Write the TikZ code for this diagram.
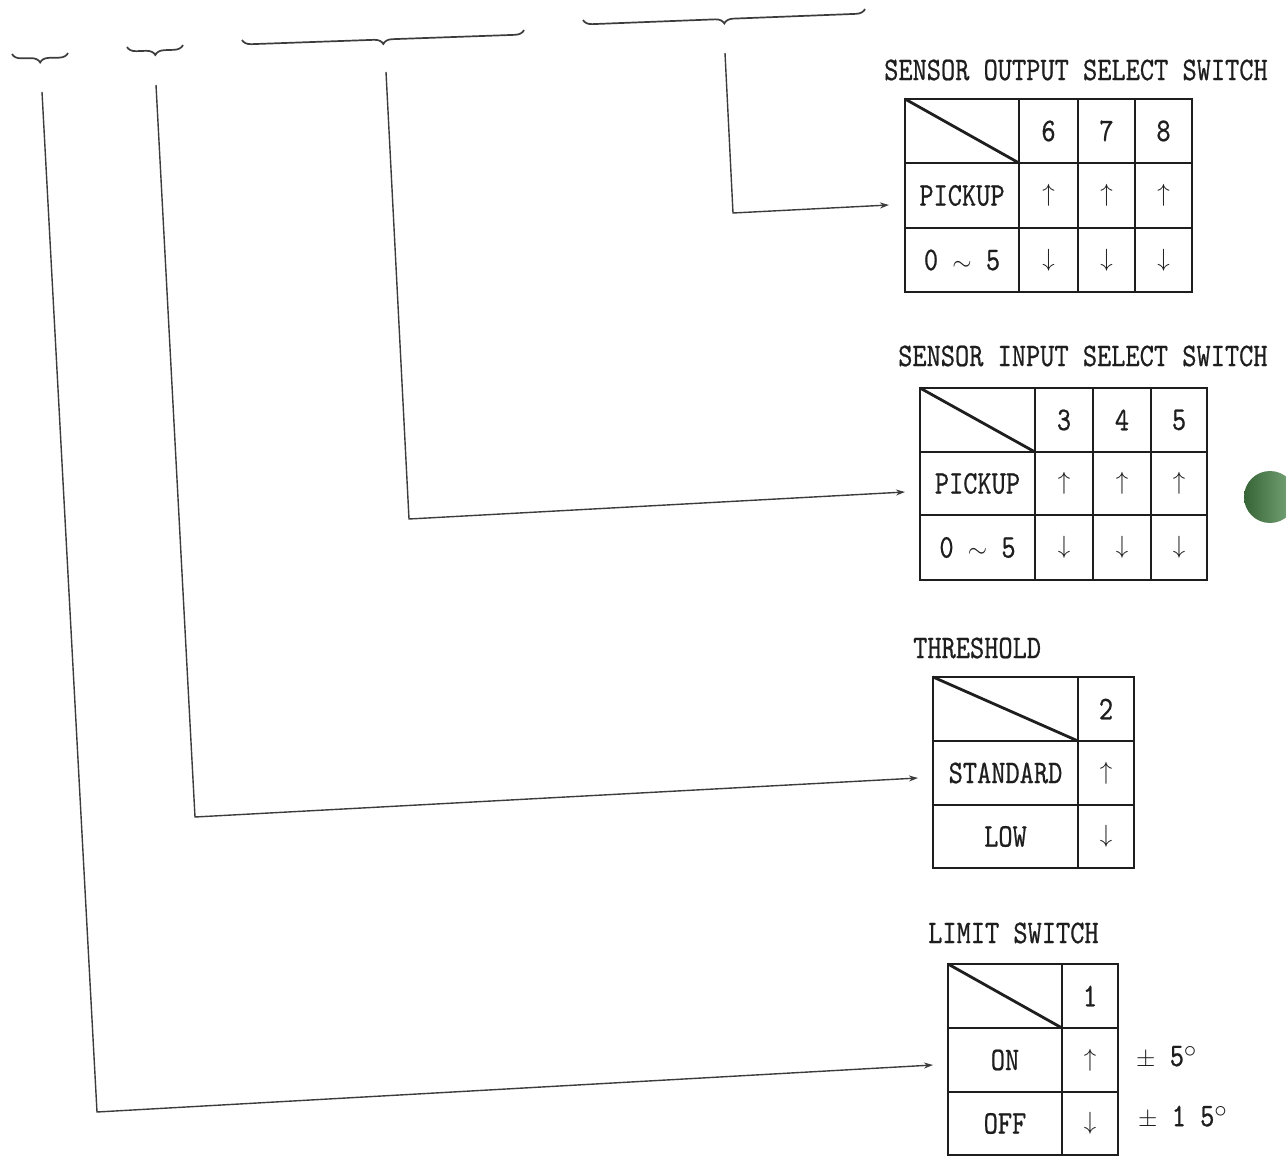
\documentclass[tikz,border=0pt]{standalone}
\usepackage{fontspec}
\setmainfont{lmmono10-regular.otf}[FakeStretch=0.82,FakeBold=0.6]
\usetikzlibrary{decorations.pathreplacing,arrows.meta}
\definecolor{ink}{RGB}{30,30,30}
\definecolor{wirec}{RGB}{60,60,60}
\begin{document}
\begin{tikzpicture}[x=1pt,y=-1pt,
  tbl/.style={line width=2.8pt, draw=ink, line join=miter},
  tblthin/.style={line width=1.4pt, draw=ink},
  wire/.style={line width=1.4pt, draw=wirec, line join=miter},
  arr/.style={wire, -{Stealth[length=9pt,width=6pt]}},
  brc/.style={line width=1.7pt, draw=wirec, decorate, decoration={brace, mirror, amplitude=9pt}},
  lbl/.style={font=\fontsize{33}{35}\selectfont, text=ink, inner sep=0pt},
  cell/.style={lbl, anchor=center},
  ttl/.style={lbl, anchor=west}]
\useasboundingbox (0,0) rectangle (1286,1158);
\fill[white] (0,0) rectangle (1286,1158);

% ---------- braces ----------
\draw[brc] (12,54) -- (68,53);
\draw[brc] (127,47) -- (183,45);
\draw[brc] (242,40) -- (524,30);
\draw[brc] (583,20) -- (865,9);

% ---------- table 1: sensor output ----------
\node[ttl] (t1) at (884,70) {SENSOR OUTPUT SELECT SWITCH};
\draw[tbl] (905,99) rectangle (1192,292);
\draw[tbl] (905,163) -- (1192,163) (905,228) -- (1192,228) (1019,99) -- (1019,292);
\draw[tblthin] (1078,99) -- (1078,292) (1135,99) -- (1135,292);
\draw[tbl] (905,99) -- (1019,163);
\node[cell] (o6) at (1048.5,131) {6};
\node[cell] (o7) at (1106.5,131) {7};
\node[cell] (o8) at (1163.5,131) {8};
\node[cell] (opick) at (962,195.5) {PICKUP};
\node[cell] (orng) at (962,260) {0 $\sim$ 5};
\node[cell] (o6u) at (1048.5,195.5) {$\uparrow$};
\node[cell] (o7u) at (1106.5,195.5) {$\uparrow$};
\node[cell] (o8u) at (1163.5,195.5) {$\uparrow$};
\node[cell] (o6d) at (1048.5,260) {$\downarrow$};
\node[cell] (o7d) at (1106.5,260) {$\downarrow$};
\node[cell] (o8d) at (1163.5,260) {$\downarrow$};

% ---------- table 2: sensor input ----------
\node[ttl] (t2) at (898,356) {SENSOR INPUT SELECT SWITCH};
\draw[tbl] (920,388) rectangle (1207,580);
\draw[tbl] (920,452) -- (1207,452) (920,515) -- (1207,515) (1035,388) -- (1035,580);
\draw[tblthin] (1093,388) -- (1093,580) (1151,388) -- (1151,580);
\draw[tbl] (920,388) -- (1035,452);
\node[cell] (i3) at (1064,420) {3};
\node[cell] (i4) at (1122,420) {4};
\node[cell] (i5) at (1179,420) {5};
\node[cell] (ipick) at (977.5,483.5) {PICKUP};
\node[cell] (irng) at (977.5,547.5) {0 $\sim$ 5};
\node[cell] (i3u) at (1064,483.5) {$\uparrow$};
\node[cell] (i4u) at (1122,483.5) {$\uparrow$};
\node[cell] (i5u) at (1179,483.5) {$\uparrow$};
\node[cell] (i3d) at (1064,547.5) {$\downarrow$};
\node[cell] (i4d) at (1122,547.5) {$\downarrow$};
\node[cell] (i5d) at (1179,547.5) {$\downarrow$};

% green dot
\shade[left color={rgb,255:red,55;green,100;blue,55}, right color={rgb,255:red,125;green,170;blue,125}] (1270,497) circle[radius=26];

% ---------- table 3: threshold ----------
\node[ttl] (t3) at (913,648) {THRESHOLD};
\draw[tbl] (933,677) rectangle (1134,868);
\draw[tbl] (933,741) -- (1134,741) (933,805) -- (1134,805) (1078,677) -- (1078,868);
\draw[tbl] (933,677) -- (1078,741);
\node[cell] (h2) at (1106,709) {2};
\node[cell] (hstd) at (1005.5,773) {STANDARD};
\node[cell] (hlow) at (1005.5,836.5) {LOW};
\node[cell] (h2u) at (1106,773) {$\uparrow$};
\node[cell] (h2d) at (1106,836.5) {$\downarrow$};

% ---------- table 4: limit switch ----------
\node[ttl] (t4) at (928,933) {LIMIT SWITCH};
\draw[tbl] (948,964) rectangle (1118,1155);
\draw[tbl] (948,1028) -- (1118,1028) (948,1092) -- (1118,1092) (1062,964) -- (1062,1155);
\draw[tbl] (948,964) -- (1062,1028);
\node[cell] (l1) at (1090,996) {1};
\node[cell] (lon) at (1005,1060) {ON};
\node[cell] (loff) at (1005,1123.5) {OFF};
\node[cell] (l1u) at (1090,1060) {$\uparrow$};
\node[cell] (l1d) at (1090,1123.5) {$\downarrow$};
\node[ttl] (lon5) at (1136,1057) {$\pm$ 5$^{\circ}$};
\node[ttl] (loff15) at (1138,1117) {$\pm$ 1 5$^{\circ}$};

% ---------- connectors ----------
\coordinate (s1) at (42,92);   \coordinate (c1) at (97,1112);  \coordinate (e1) at (933,1065);
\coordinate (s2) at (156,85);  \coordinate (c2) at (195,817);  \coordinate (e2) at (918,778);
\coordinate (s3) at (386,72);  \coordinate (c3) at (409,519);  \coordinate (e3) at (905,492);
\coordinate (s4) at (725,53);  \coordinate (c4) at (733,213);  \coordinate (e4) at (889,205);
\draw[arr] (s1) -- (c1) -- (e1);
\draw[arr] (s2) -- (c2) -- (e2);
\draw[arr] (s3) -- (c3) -- (e3);
\draw[arr] (s4) -- (c4) -- (e4);
\end{tikzpicture}
\end{document}
